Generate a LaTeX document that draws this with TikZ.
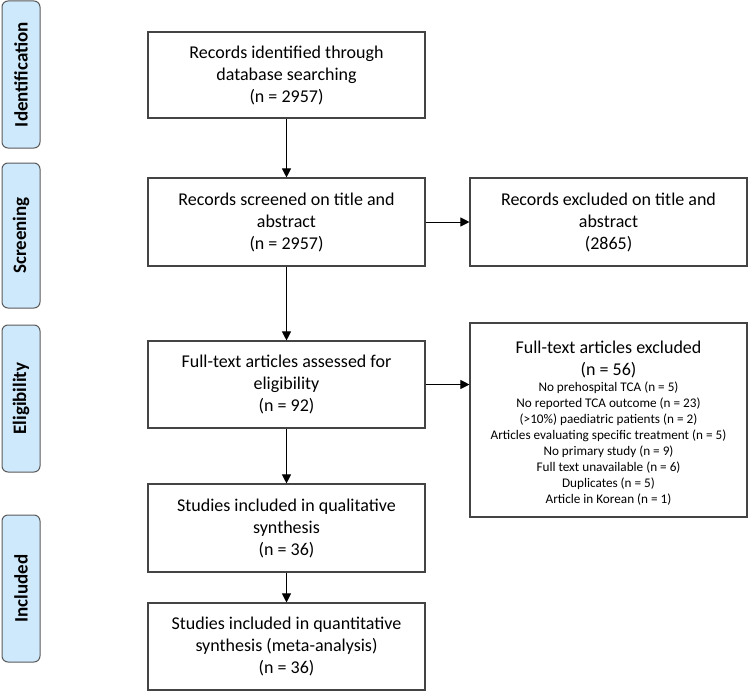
\documentclass[tikz,border=0pt]{standalone}
\usepackage{fontspec}
\setmainfont{Carlito}
\usetikzlibrary{arrows.meta}
\definecolor{stagefill}{HTML}{CFE9FC}
\definecolor{stageline}{HTML}{5A5A5A}
\definecolor{boxline}{HTML}{444444}
\tikzset{
  x=1pt,y=-1pt,
  stage/.style={draw=stageline,fill=stagefill,line width=1pt,rounded corners=6pt,
    inner sep=0pt,rotate=90,
    font=\fontsize{19}{22}\selectfont\bfseries},
  mainbox/.style={draw=boxline,line width=1.1pt,minimum width=277pt,inner sep=2pt,
    align=center,font=\fontsize{18}{22}\selectfont},
  plaintext/.style={inner sep=0pt,align=center,font=\fontsize{18}{22}\selectfont},
  conn/.style={line width=1pt,draw=black,-{Triangle[length=9pt,width=9pt]}},
}
\begin{document}
\begin{tikzpicture}
\useasboundingbox (0,0) rectangle (749,693);
% stages
\node[stage,minimum height=38pt,minimum width=147pt] (sid) at (21,74.5) {Identification};
\node[stage,minimum height=38pt,minimum width=145pt] (ssc) at (21,235.5) {Screening};
\node[stage,minimum height=38pt,minimum width=147pt] (sel) at (21,398.5) {Eligibility};
\node[stage,minimum height=38pt,minimum width=147pt] (sin) at (21,588.5) {Included};
% main boxes
\node[mainbox,minimum height=86pt] (b1) at (286.5,75) {Records identified through\\database searching\\(n = 2957)};
\node[mainbox,minimum height=88pt] (b2) at (286.5,222) {Records screened on title and\\abstract\\(n = 2957)};
\node[mainbox,minimum height=87pt] (b3) at (286.5,384.5) {Full-text articles assessed for\\eligibility\\(n = 92)};
\node[mainbox,minimum height=88pt] (b4) at (286.5,528) {Studies included in qualitative\\synthesis\\(n = 36)};
\node[mainbox,minimum height=87pt] (b5) at (286.5,646.5) {Studies included in quantitative\\synthesis (meta-analysis)\\(n = 36)};
\node[mainbox,minimum height=88pt] (r1) at (608.5,222) {Records excluded on title and\\abstract\\(2865)};
\node[mainbox,minimum height=194pt] (r2) at (608.5,420) {};
\node[plaintext] (r2t) at (608.5,423.5) {Full-text articles excluded\\[0pt](n = 56)\\[-6pt]
  {\fontsize{13.2}{16}\selectfont No prehospital TCA (n = 5)}\\[-6pt]
  {\fontsize{13.2}{16}\selectfont No reported TCA outcome (n = 23)}\\[-6pt]
  {\fontsize{13.2}{16}\selectfont (>10\%) paediatric patients (n = 2)}\\[-6pt]
  {\fontsize{13.2}{16}\selectfont Articles evaluating specific treatment (n = 5)}\\[-6pt]
  {\fontsize{13.2}{16}\selectfont No primary study (n = 9)}\\[-6pt]
  {\fontsize{13.2}{16}\selectfont Full text unavailable (n = 6)}\\[-6pt]
  {\fontsize{13.2}{16}\selectfont Duplicates (n = 5)}\\[-6pt]
  {\fontsize{13.2}{16}\selectfont Article in Korean (n = 1)}};
% connectors
\draw[conn] (b1) -- (b2);
\draw[conn] (b2) -- (b3);
\draw[conn] (b3) -- (b4);
\draw[conn] (b4) -- (b5);
\draw[conn] (b2) -- (r1);
\draw[conn] (b3.east) -- (b3.east -| r2.west);
\end{tikzpicture}
\end{document}
